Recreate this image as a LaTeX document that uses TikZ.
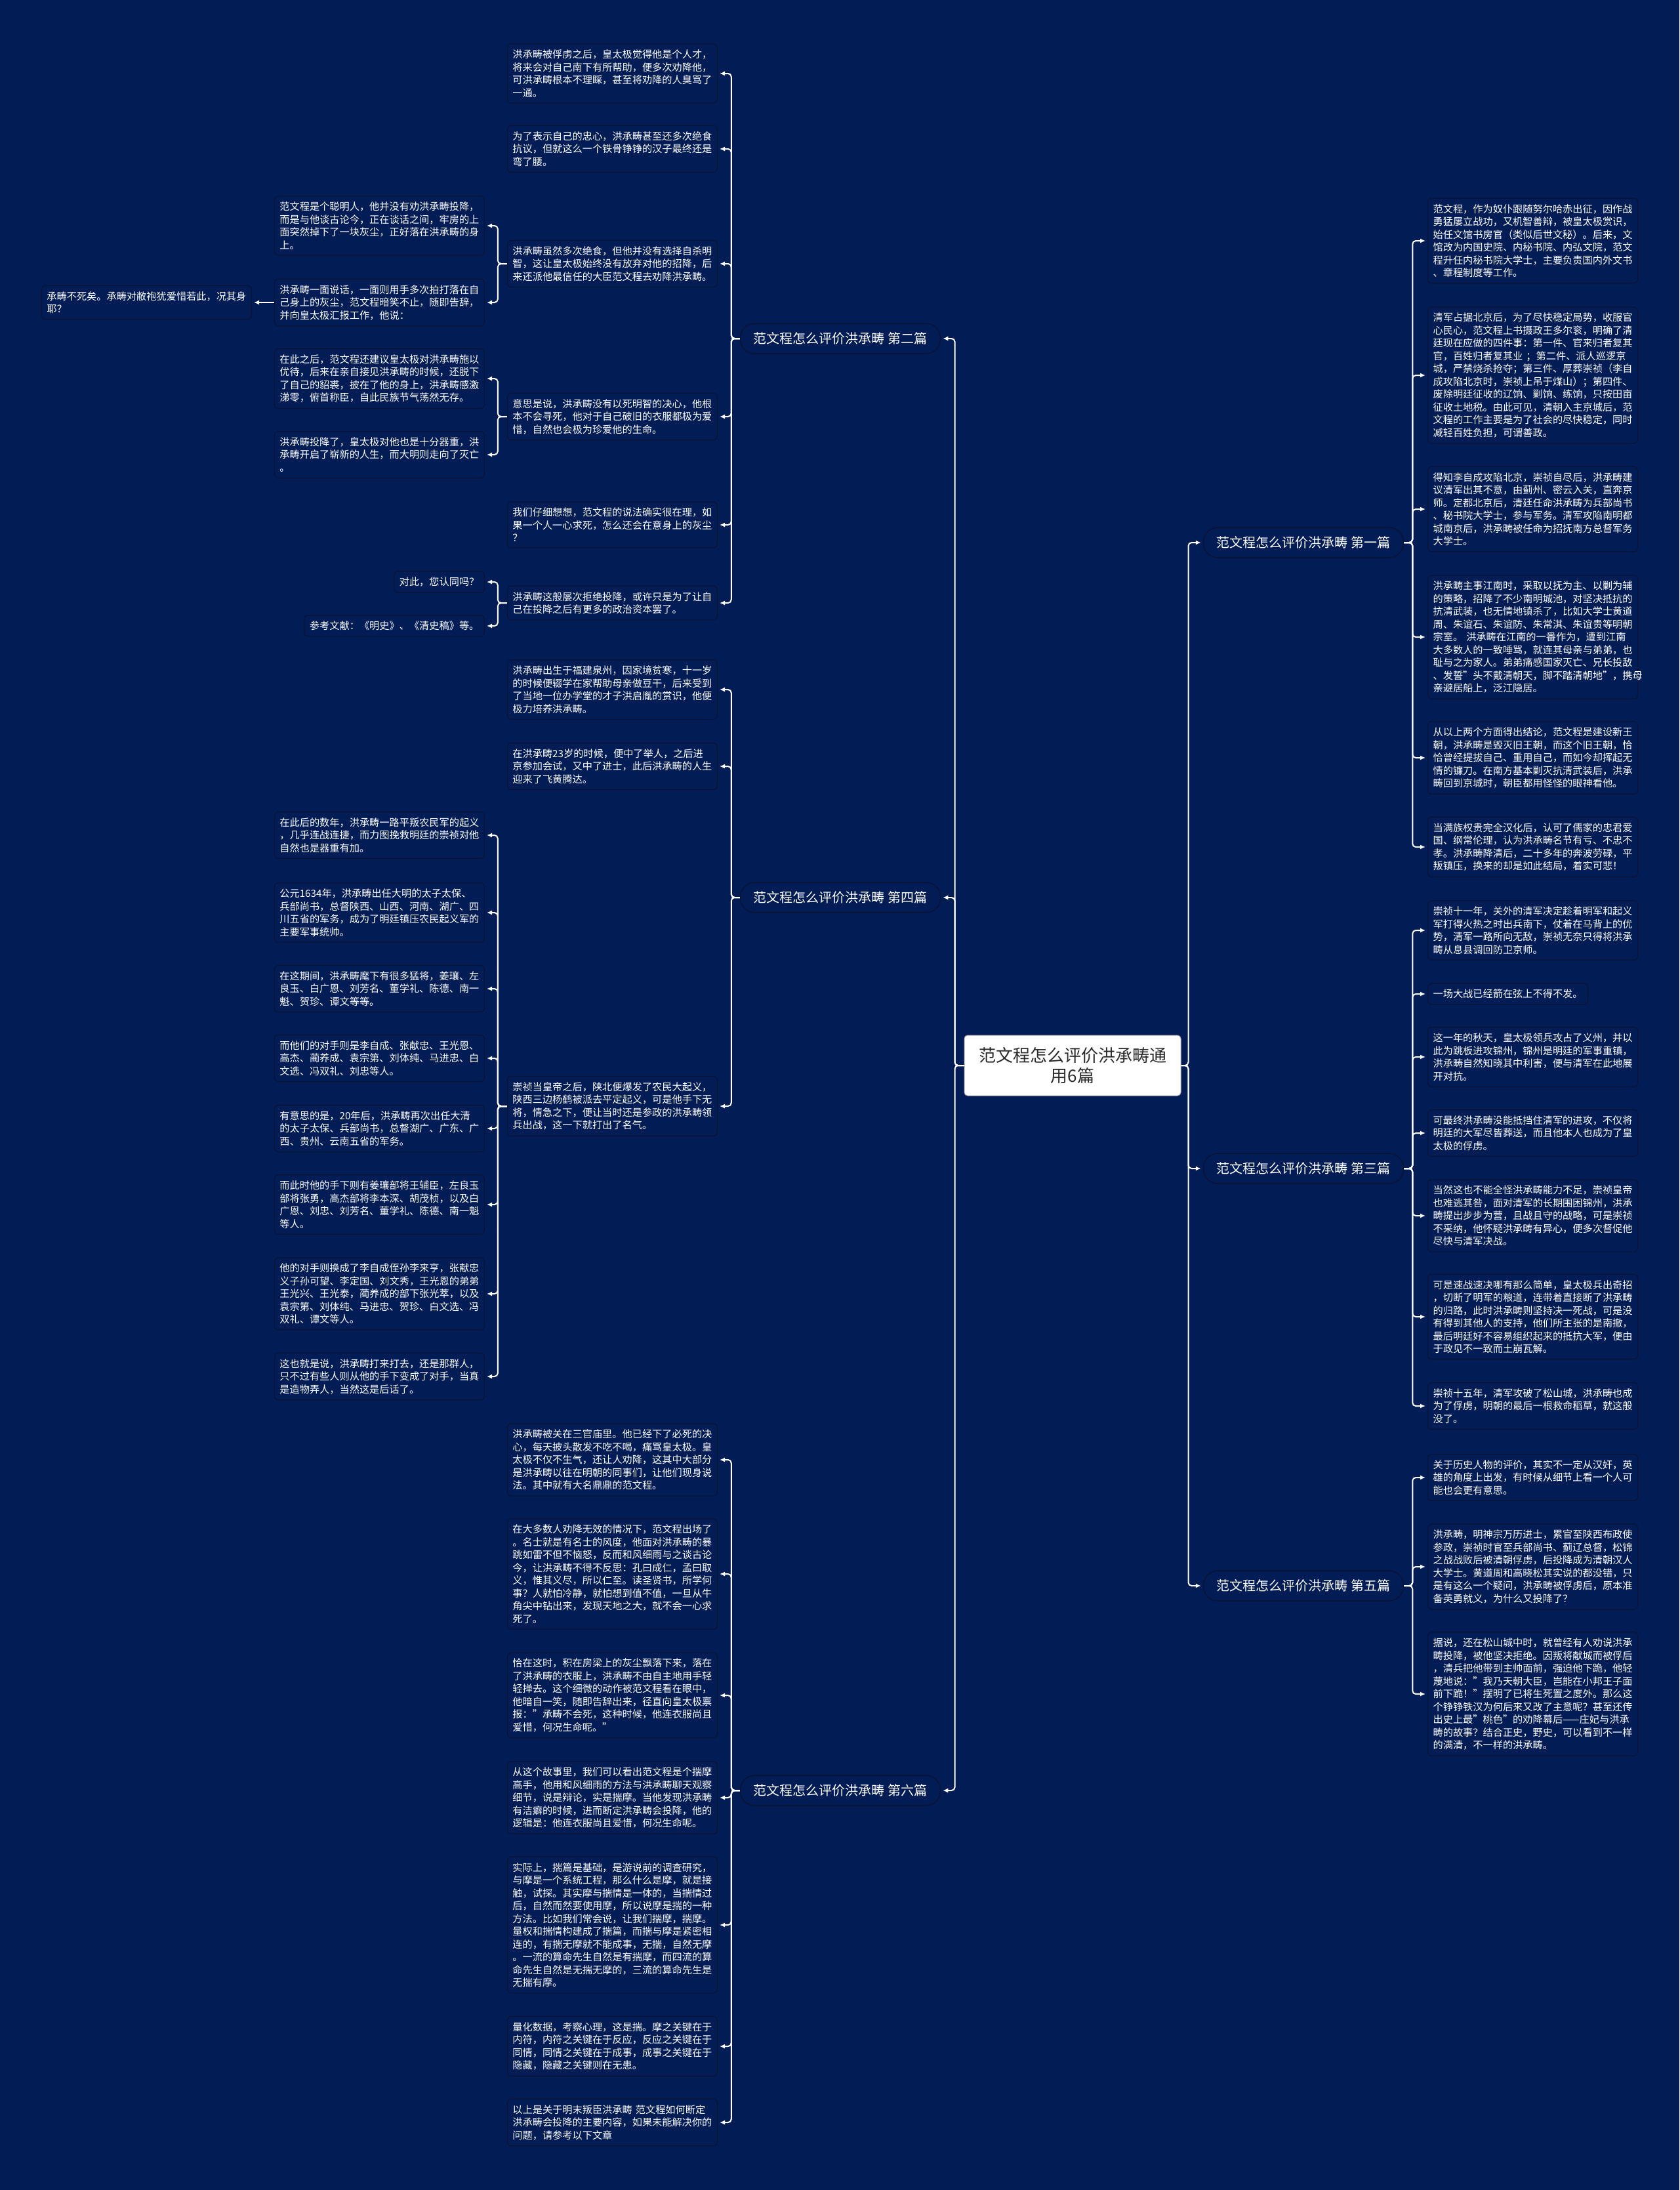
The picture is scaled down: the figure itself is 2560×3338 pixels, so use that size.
\documentclass[tikz,border=0pt]{standalone}
\usepackage{fontspec}
\setmainfont{Noto Sans CJK SC}
\usetikzlibrary{arrows.meta}
\definecolor{bgc}{HTML}{021C56}
\definecolor{boxline}{HTML}{0B1334}
\definecolor{roottext}{HTML}{2A2A2A}
\tikzset{
  leaf/.style={draw=boxline, line width=1.2pt, fill=bgc, rounded corners=6pt, text=white,
    font=\fontsize{15.2}{19.5}\selectfont, text width=304pt, align=left, inner xsep=8pt, inner ysep=9pt},
  shortleaf/.style={draw=boxline, line width=1.2pt, fill=bgc, rounded corners=6pt, text=white,
    font=\fontsize{15.2}{19.5}\selectfont, inner xsep=8pt, inner ysep=9pt},
  branch/.style={draw=boxline, line width=1.5pt, fill=bgc, rounded corners=22pt, text=white,
    font=\fontsize{20}{24}\selectfont, minimum width=305pt, minimum height=46pt, inner sep=0pt},
  rootnode/.style={draw=gray!60, line width=1pt, fill=white, rounded corners=5pt, text=roottext,
    font=\fontsize{26}{31}\selectfont, minimum width=330pt, minimum height=92pt, align=center, inner sep=0pt},
  conn/.style={draw=white, line width=2pt, rounded corners=5pt, -{Latex[length=8pt,width=7pt]}, shorten >=3pt}
}
\begin{document}
\begin{tikzpicture}[x=1pt,y=-1pt]
\fill[bgc] (0,0) rectangle (2560,3338);
\useasboundingbox (0,0) rectangle (2560,3338);

% root
\node[rootnode] (root) at (1635,1624) {范文程怎么评价洪承畴通\\用6篇};

% branches
\node[branch] (p2) at (1281,516) {范文程怎么评价洪承畴 第二篇};
\node[branch] (p4) at (1281,1368) {范文程怎么评价洪承畴 第四篇};
\node[branch] (p6) at (1281,2729) {范文程怎么评价洪承畴 第六篇};
\node[branch] (p1) at (1987,827) {范文程怎么评价洪承畴 第一篇};
\node[branch] (p3) at (1987,1781) {范文程怎么评价洪承畴 第三篇};
\node[branch] (p5) at (1987,2417) {范文程怎么评价洪承畴 第五篇};

% ---- 第二篇 leaves
\node[leaf, anchor=east] (a1) at (1094,112) {洪承畴被俘虏之后，皇太极觉得他是个人才，\\将来会对自己南下有所帮助，便多次劝降他，\\可洪承畴根本不理睬，甚至将劝降的人臭骂了\\一通。};
\node[leaf, anchor=east] (a2) at (1094,227) {为了表示自己的忠心，洪承畴甚至还多次绝食\\抗议，但就这么一个铁骨铮铮的汉子最终还是\\弯了腰。};
\node[leaf, anchor=east] (a3) at (1094,402) {洪承畴虽然多次绝食，但他并没有选择自杀明\\智，这让皇太极始终没有放弃对他的招降，后\\来还派他最信任的大臣范文程去劝降洪承畴。};
\node[leaf, anchor=east] (a4) at (1094,635) {意思是说，洪承畴没有以死明智的决心，他根\\本不会寻死，他对于自己破旧的衣服都极为爱\\惜，自然也会极为珍爱他的生命。};
\node[leaf, anchor=east] (a5) at (1094,800) {我们仔细想想，范文程的说法确实很在理，如\\果一个人一心求死，怎么还会在意身上的灰尘\\？};
\node[leaf, anchor=east] (a6) at (1094,919) {洪承畴这般屡次拒绝投降，或许只是为了让自\\己在投降之后有更多的政治资本罢了。};

\node[leaf, anchor=east] (b1) at (739,344) {范文程是个聪明人，他并没有劝洪承畴投降，\\而是与他谈古论今，正在谈话之间，牢房的上\\面突然掉下了一块灰尘，正好落在洪承畴的身\\上。};
\node[leaf, anchor=east] (b2) at (739,461) {洪承畴一面说话，一面则用手多次拍打落在自\\己身上的灰尘，范文程暗笑不止，随即告辞，\\并向皇太极汇报工作，他说：};
\node[leaf, anchor=east] (c1) at (384,461) {承畴不死矣。承畴对敝袍犹爱惜若此，况其身\\耶？};
\node[leaf, anchor=east] (b3) at (739,577) {在此之后，范文程还建议皇太极对洪承畴施以\\优待，后来在亲自接见洪承畴的时候，还脱下\\了自己的貂裘，披在了他的身上，洪承畴感激\\涕零，俯首称臣，自此民族节气荡然无存。};
\node[leaf, anchor=east] (b4) at (739,693) {洪承畴投降了，皇太极对他也是十分器重，洪\\承畴开启了崭新的人生，而大明则走向了灭亡\\。};
\node[shortleaf, anchor=east] (b5) at (739,887) {对此，您认同吗？};
\node[shortleaf, anchor=east] (b6) at (739,954) {参考文献：《明史》、《清史稿》等。};

% ---- 第四篇 leaves
\node[leaf, anchor=east] (d1) at (1094,1051) {洪承畴出生于福建泉州，因家境贫寒，十一岁\\的时候便辍学在家帮助母亲做豆干，后来受到\\了当地一位办学堂的才子洪启胤的赏识，他便\\极力培养洪承畴。};
\node[leaf, anchor=east] (d2) at (1094,1168) {在洪承畴23岁的时候，便中了举人，之后进\\京参加会试，又中了进士，此后洪承畴的人生\\迎来了飞黄腾达。};
\node[leaf, anchor=east] (d3) at (1094,1686) {崇祯当皇帝之后，陕北便爆发了农民大起义，\\陕西三边杨鹤被派去平定起义，可是他手下无\\将，情急之下，便让当时还是参政的洪承畴领\\兵出战，这一下就打出了名气。};

\node[leaf, anchor=east] (e1) at (739,1273) {在此后的数年，洪承畴一路平叛农民军的起义\\，几乎连战连捷，而力图挽救明廷的崇祯对他\\自然也是器重有加。};
\node[leaf, anchor=east] (e2) at (739,1391) {公元1634年，洪承畴出任大明的太子太保、\\兵部尚书，总督陕西、山西、河南、湖广、四\\川五省的军务，成为了明廷镇压农民起义军的\\主要军事统帅。};
\node[leaf, anchor=east] (e3) at (739,1507) {在这期间，洪承畴麾下有很多猛将，姜瓖、左\\良玉、白广恩、刘芳名、董学礼、陈德、南一\\魁、贺珍、谭文等等。};
\node[leaf, anchor=east] (e4) at (739,1613) {而他们的对手则是李自成、张献忠、王光恩、\\高杰、蔺养成、袁宗第、刘体纯、马进忠、白\\文选、冯双礼、刘忠等人。};
\node[leaf, anchor=east] (e5) at (739,1720) {有意思的是，20年后，洪承畴再次出任大清\\的太子太保、兵部尚书，总督湖广、广东、广\\西、贵州、云南五省的军务。};
\node[leaf, anchor=east] (e6) at (739,1836) {而此时他的手下则有姜瓖部将王辅臣，左良玉\\部将张勇，高杰部将李本深、胡茂桢，以及白\\广恩、刘忠、刘芳名、董学礼、陈德、南一魁\\等人。};
\node[leaf, anchor=east] (e7) at (739,1972) {他的对手则换成了李自成侄孙李来亨，张献忠\\义子孙可望、李定国、刘文秀，王光恩的弟弟\\王光兴、王光泰，蔺养成的部下张光萃，以及\\袁宗第、刘体纯、马进忠、贺珍、白文选、冯\\双礼、谭文等人。};
\node[leaf, anchor=east] (e8) at (739,2098) {这也就是说，洪承畴打来打去，还是那群人，\\只不过有些人则从他的手下变成了对手，当真\\是造物弄人，当然这是后话了。};

% ---- 第六篇 leaves
\node[leaf, anchor=east] (f1) at (1094,2225) {洪承畴被关在三官庙里。他已经下了必死的决\\心，每天披头散发不吃不喝，痛骂皇太极。皇\\太极不仅不生气，还让人劝降，这其中大部分\\是洪承畴以往在明朝的同事们，让他们现身说\\法。其中就有大名鼎鼎的范文程。};
\node[leaf, anchor=east] (f2) at (1094,2399) {在大多数人劝降无效的情况下，范文程出场了\\。名士就是有名士的风度，他面对洪承畴的暴\\跳如雷不但不恼怒，反而和风细雨与之谈古论\\今，让洪承畴不得不反思：孔曰成仁，孟曰取\\义，惟其义尽，所以仁至。读圣贤书，所学何\\事？人就怕冷静，就怕想到值不值，一旦从牛\\角尖中钻出来，发现天地之大，就不会一心求\\死了。};
\node[leaf, anchor=east] (f3) at (1094,2584) {恰在这时，积在房梁上的灰尘飘落下来，落在\\了洪承畴的衣服上，洪承畴不由自主地用手轻\\轻掸去。这个细微的动作被范文程看在眼中，\\他暗自一笑，随即告辞出来，径直向皇太极禀\\报："承畴不会死，这种时候，他连衣服尚且\\爱惜，何况生命呢。"};
\node[leaf, anchor=east] (f4) at (1094,2740) {从这个故事里，我们可以看出范文程是个揣摩\\高手，他用和风细雨的方法与洪承畴聊天观察\\细节，说是辩论，实是揣摩。当他发现洪承畴\\有洁癖的时候，进而断定洪承畴会投降，他的\\逻辑是：他连衣服尚且爱惜，何况生命呢。};
\node[leaf, anchor=east] (f5) at (1094,2934) {实际上，揣篇是基础，是游说前的调查研究，\\与摩是一个系统工程，那么什么是摩，就是接\\触，试探。其实摩与揣情是一体的，当揣情过\\后，自然而然要使用摩，所以说摩是揣的一种\\方法。比如我们常会说，让我们揣摩，揣摩。\\量权和揣情构建成了揣篇，而揣与摩是紧密相\\连的，有揣无摩就不能成事，无揣，自然无摩\\。一流的算命先生自然是有揣摩，而四流的算\\命先生自然是无揣无摩的，三流的算命先生是\\无揣有摩。};
\node[leaf, anchor=east] (f6) at (1094,3119) {量化数据，考察心理，这是揣。摩之关键在于\\内符，内符之关键在于反应，反应之关键在于\\同情，同情之关键在于成事，成事之关键在于\\隐藏，隐藏之关键则在无患。};
\node[leaf, anchor=east] (f7) at (1094,3235) {以上是关于明末叛臣洪承畴 范文程如何断定\\洪承畴会投降的主要内容，如果未能解决你的\\问题，请参考以下文章};

% ---- 第一篇 leaves
\node[leaf, anchor=west] (g1) at (2176,367) {范文程，作为奴仆跟随努尔哈赤出征，因作战\\勇猛屡立战功，又机智善辩，被皇太极赏识，\\始任文馆书房官（类似后世文秘）。后来，文\\馆改为内国史院、内秘书院、内弘文院，范文\\程升任内秘书院大学士，主要负责国内外文书\\、章程制度等工作。};
\node[leaf, anchor=west] (g2) at (2176,572) {清军占据北京后，为了尽快稳定局势，收服官\\心民心，范文程上书摄政王多尔衮，明确了清\\廷现在应做的四件事：第一件、官来归者复其\\官，百姓归者复其业 ；第二件、派人巡逻京\\城，严禁烧杀抢夺；第三件、厚葬崇祯（李自\\成攻陷北京时，崇祯上吊于煤山）；第四件、\\废除明廷征收的辽饷、剿饷、练饷，只按田亩\\征收土地税。由此可见，清朝入主京城后，范\\文程的工作主要是为了社会的尽快稳定，同时\\减轻百姓负担，可谓善政。};
\node[leaf, anchor=west] (g3) at (2176,776) {得知李自成攻陷北京，崇祯自尽后，洪承畴建\\议清军出其不意，由蓟州、密云入关，直奔京\\师。定都北京后，清廷任命洪承畴为兵部尚书\\、秘书院大学士，参与军务。清军攻陷南明都\\城南京后，洪承畴被任命为招抚南方总督军务\\大学士。};
\node[leaf, anchor=west] (g4) at (2176,971) {洪承畴主事江南时，采取以抚为主、以剿为辅\\的策略，招降了不少南明城池，对坚决抵抗的\\抗清武装，也无情地镇杀了，比如大学士黄道\\周、朱谊石、朱谊防、朱常淇、朱谊贵等明朝\\宗室。 洪承畴在江南的一番作为，遭到江南\\大多数人的一致唾骂，就连其母亲与弟弟，也\\耻与之为家人。弟弟痛感国家灭亡、兄长投敌\\、发誓"头不戴清朝天，脚不踏清朝地"，携母\\亲避居船上，泛江隐居。};
\node[leaf, anchor=west] (g5) at (2176,1155) {从以上两个方面得出结论，范文程是建设新王\\朝，洪承畴是毁灭旧王朝，而这个旧王朝，恰\\恰曾经提拔自己、重用自己，而如今却挥起无\\情的镰刀。在南方基本剿灭抗清武装后，洪承\\畴回到京城时，朝臣都用怪怪的眼神看他。};
\node[leaf, anchor=west] (g6) at (2176,1291) {当满族权贵完全汉化后，认可了儒家的忠君爱\\国、纲常伦理，认为洪承畴名节有亏、不忠不\\孝。洪承畴降清后，二十多年的奔波劳碌，平\\叛镇压，换来的却是如此结局，着实可悲！};

% ---- 第三篇 leaves
\node[leaf, anchor=west] (h1) at (2176,1418) {崇祯十一年，关外的清军决定趁着明军和起义\\军打得火热之时出兵南下，仗着在马背上的优\\势，清军一路所向无敌，崇祯无奈只得将洪承\\畴从息县调回防卫京师。};
\node[shortleaf, anchor=west] (h2) at (2176,1515) {一场大战已经箭在弦上不得不发。};
\node[leaf, anchor=west] (h3) at (2176,1611) {这一年的秋天，皇太极领兵攻占了义州，并以\\此为跳板进攻锦州，锦州是明廷的军事重镇，\\洪承畴自然知晓其中利害，便与清军在此地展\\开对抗。};
\node[leaf, anchor=west] (h4) at (2176,1727) {可最终洪承畴没能抵挡住清军的进攻，不仅将\\明廷的大军尽皆葬送，而且他本人也成为了皇\\太极的俘虏。};
\node[leaf, anchor=west] (h5) at (2176,1853) {当然这也不能全怪洪承畴能力不足，崇祯皇帝\\也难逃其咎，面对清军的长期围困锦州，洪承\\畴提出步步为营，且战且守的战略，可是崇祯\\不采纳，他怀疑洪承畴有异心，便多次督促他\\尽快与清军决战。};
\node[leaf, anchor=west] (h6) at (2176,2007) {可是速战速决哪有那么简单，皇太极兵出奇招\\，切断了明军的粮道，连带着直接断了洪承畴\\的归路，此时洪承畴则坚持决一死战，可是没\\有得到其他人的支持，他们所主张的是南撤，\\最后明廷好不容易组织起来的抵抗大军，便由\\于政见不一致而土崩瓦解。};
\node[leaf, anchor=west] (h7) at (2176,2143) {崇祯十五年，清军攻破了松山城，洪承畴也成\\为了俘虏，明朝的最后一根救命稻草，就这般\\没了。};

% ---- 第五篇 leaves
\node[leaf, anchor=west] (i1) at (2176,2252) {关于历史人物的评价，其实不一定从汉奸，英\\雄的角度上出发，有时候从细节上看一个人可\\能也会更有意思。};
\node[leaf, anchor=west] (i2) at (2176,2388) {洪承畴，明神宗万历进士，累官至陕西布政使\\参政，崇祯时官至兵部尚书、蓟辽总督，松锦\\之战战败后被清朝俘虏，后投降成为清朝汉人\\大学士。黄道周和高晓松其实说的都没错，只\\是有这么一个疑问，洪承畴被俘虏后，原本准\\备英勇就义，为什么又投降了？};
\node[leaf, anchor=west] (i3) at (2176,2582) {据说，还在松山城中时，就曾经有人劝说洪承\\畴投降，被他坚决拒绝。因叛将献城而被俘后\\，清兵把他带到主帅面前，强迫他下跪，他轻\\蔑地说："我乃天朝大臣，岂能在小邦王子面\\\mbox{前下跪！"摆明了已将生死置之度外。那么这}\\个铮铮铁汉为何后来又改了主意呢？甚至还传\\\mbox{出史上最"桃色"的劝降幕后——庄妃与洪承}\\畴的故事？结合正史，野史，可以看到不一样\\的满清，不一样的洪承畴。};

% ---- connectors: root to branches
\foreach \c in {p2,p4,p6} \draw[conn] (root.west) -- ++(-14,0) |- (\c.east);
\foreach \c in {p1,p3,p5} \draw[conn] (root.east) -- ++(11,0) |- (\c.west);

% left branches
\foreach \c in {a1,a2,a3,a4,a5,a6} \draw[conn] (p2.west) -- ++(-13,0) |- (\c.east);
\foreach \c in {d1,d2,d3} \draw[conn] (p4.west) -- ++(-13,0) |- (\c.east);
\foreach \c in {f1,f2,f3,f4,f5,f6,f7} \draw[conn] (p6.west) -- ++(-13,0) |- (\c.east);
\foreach \c in {b1,b2} \draw[conn] (a3.west) -- ++(-14,0) |- (\c.east);
\foreach \c in {b3,b4} \draw[conn] (a4.west) -- ++(-14,0) |- (\c.east);
\foreach \c in {b5,b6} \draw[conn] (a6.west) -- ++(-14,0) |- (\c.east);
\foreach \c in {e1,e2,e3,e4,e5,e6,e7,e8} \draw[conn] (d3.west) -- ++(-14,0) |- (\c.east);
\draw[conn] (b2.west) -- (c1.east);

% right branches
\foreach \c in {g1,g2,g3,g4,g5,g6} \draw[conn] (p1.east) -- ++(13,0) |- (\c.west);
\foreach \c in {h1,h2,h3,h4,h5,h6,h7} \draw[conn] (p3.east) -- ++(13,0) |- (\c.west);
\foreach \c in {i1,i2,i3} \draw[conn] (p5.east) -- ++(13,0) |- (\c.west);
\end{tikzpicture}
\end{document}
